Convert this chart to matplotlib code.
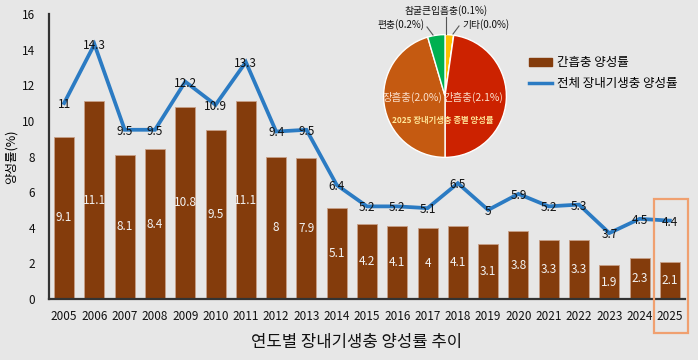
import matplotlib
matplotlib.use("Agg")
import matplotlib.pyplot as plt
from matplotlib.patches import Rectangle, Patch
from matplotlib.lines import Line2D
import numpy as np

plt.rcParams['font.family'] = ['Noto Sans CJK KR', 'DejaVu Sans']

years = [str(y) for y in range(2005, 2026)]
clonorchis = [9.1, 11.1, 8.1, 8.4, 10.8, 9.5, 11.1, 8, 7.9, 5.1, 4.2, 4.1, 4, 4.1, 3.1, 3.8, 3.3, 3.3, 1.9, 2.3, 2.1]
total = [11, 14.3, 9.5, 9.5, 12.2, 10.9, 13.3, 9.4, 9.5, 6.4, 5.2, 5.2, 5.1, 6.5, 5, 5.9, 5.2, 5.3, 3.7, 4.5, 4.4]
pie_labels = ['참굴큰입흡충', '기타', '간흡충', '장흡충', '편충']
pie_values = [0.1, 0.0, 2.1, 2.0, 0.2]

bg = '#e7e7e7'
bar_color = '#843c0c'
line_color = '#2b7bc3'

fig = plt.figure(figsize=(6.98, 3.6), dpi=100, facecolor=bg)
ax = fig.add_axes([49/698, 1-299/360, (685-49)/698, (299-14)/360])
ax.set_facecolor(bg)
x = np.arange(len(years))
ax.bar(x, clonorchis, width=0.66, color=bar_color, edgecolor='#c8a088', linewidth=0.6, zorder=2)
ax.plot(x, total, color=line_color, linewidth=2.7, zorder=3, solid_joinstyle='miter')

for xi, v in zip(x, clonorchis):
    ax.text(xi, v/2, f'{v:g}', ha='center', va='center', color='#f2f2f2', fontsize=8.5, zorder=4)
for xi, v in zip(x, total):
    ax.text(xi, v - 0.08, f'{v:g}', ha='center', va='center', color='#111111', fontsize=8.5, zorder=5)

ax.set_xlim(-0.5, 20.5)
ax.set_ylim(0, 16)
ax.set_yticks(range(0, 17, 2))
ax.set_xticks(x)
ax.set_xticklabels(years)
ax.tick_params(axis='both', length=0, labelsize=8.5, colors='#111111')
ax.tick_params(axis='x', pad=8)
ax.tick_params(axis='y', pad=10)
for s in ['top', 'right']:
    ax.spines[s].set_visible(False)
for s in ['left', 'bottom']:
    ax.spines[s].set_color('#333333')
    ax.spines[s].set_linewidth(1.6)
ax.set_ylabel('양성률(%)', fontsize=9, labelpad=3)

# highlight box around last year
last = len(years) - 1
rect = Rectangle((last - 0.53, -1.9), 1.12, 7.5, fill=False, edgecolor='#f0a070',
                 linewidth=1.6, clip_on=False, zorder=6)
ax.add_patch(rect)

fig.text(357/698, 1-342/360, '연도별 장내기생충 양성률 추이', ha='center', va='center', fontsize=12, color='#111111')

# legend
handles = [Patch(facecolor=bar_color, edgecolor=bar_color),
           Line2D([0], [0], color=line_color, linewidth=2.5)]
fig.legend(handles, ['간흡충 양성률', '전체 장내기생충 양성률'], loc='center left',
           bbox_to_anchor=(518/698, 1-73/360), frameon=False, fontsize=9,
           handlelength=1.8, handleheight=0.6, handletextpad=0.4, labelspacing=0.6)

# pie
pax = fig.add_axes([383/698, 1-159/360, 124/698, 126/360])
pie_colors = ['#ffc000', '#ffd966', '#cc2200', '#c55a11', '#00b050']
pax.pie(pie_values, colors=pie_colors, startangle=90, counterclock=False,
        wedgeprops=dict(edgecolor='white', linewidth=1.0))
pax.set_xlim(-1.01, 1.01)
pax.set_ylim(-1.01, 1.01)
pax.set_aspect('equal')

fig.text(412/698, 1-97/360, f'{pie_labels[3]}({pie_values[3]:.1f}%)', ha='center', va='center', fontsize=7.5, color='#fbe0cc')
fig.text(473/698, 1-97/360, f'{pie_labels[2]}({pie_values[2]:.1f}%)', ha='center', va='center', fontsize=7.5, color='#fbe0cc')
fig.text(443/698, 1-121/360, '2025 장내기생충 종별 양성률', ha='center', va='center', fontsize=6, color='#ffe699', fontweight='bold')

fig.text(401/698, 1-25/360, f'{pie_labels[4]}({pie_values[4]:.1f}%)', ha='center', va='center', fontsize=7, color='#111111')
fig.text(446/698, 1-11/360, f'{pie_labels[0]}({pie_values[0]:.1f}%)', ha='center', va='center', fontsize=7, color='#111111')
fig.text(486/698, 1-25/360, f'{pie_labels[1]}({pie_values[1]:.1f}%)', ha='center', va='center', fontsize=7, color='#111111')

def leader(x0, y0, x1, y1):
    fig.add_artist(Line2D([x0/698, x1/698], [1-y0/360, 1-y1/360], color='#555555', linewidth=0.8))
leader(427, 27, 433, 35)
leader(446, 17, 446, 34)
leader(459, 26, 453, 34)

fig.savefig('out.png', dpi=100, facecolor=bg)
